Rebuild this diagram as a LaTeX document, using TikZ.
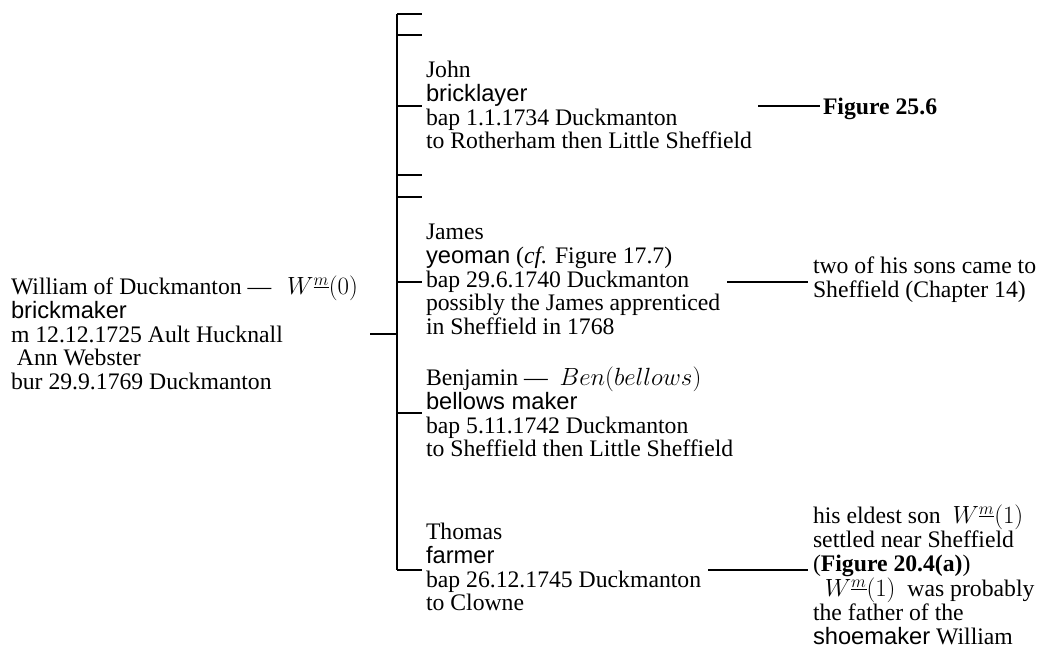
\documentclass[tikz,border=0pt]{standalone}
\usepackage[no-math]{fontspec}
\setmainfont{Liberation Serif}
\setsansfont{Liberation Sans}
\newcommand\occup[1]{{\sffamily #1}}
\newcommand\Wm[1]{$W^{\underline{m}}(#1)$}
\begin{document}
\begin{tikzpicture}[x=1pt,y=-1pt,line width=2pt,
  txt/.style={inner sep=0pt,anchor=base west,align=left,font=\fontsize{23.7}{23.8}\selectfont},
  link/.style={line width=2pt}]
\useasboundingbox (0,0) rectangle (1041,648);
% text blocks (anchor = baseline of the last line)
\node[txt] (father) at (10,389.7) {William of Duckmanton --- \ \,\Wm{0}\\\occup{brickmaker}\\m 12.12.1725 Ault Hucknall\\\ Ann Webster\\bur 29.9.1769 Duckmanton};
\node[txt] (john) at (425,148.9) {John\\\occup{bricklayer}\\bap 1.1.1734 Duckmanton\\to Rotherham then Little Sheffield};
\node[txt] (james) at (425,334.7) {James\\\occup{yeoman} (\emph{cf.} Figure 17.7)\\bap 29.6.1740 Duckmanton\\possibly the James apprenticed\\in Sheffield in 1768};
\node[txt] (benjamin) at (425,456.9) {Benjamin --- \ $Ben(bellows)$\\\occup{bellows maker}\\bap 5.11.1742 Duckmanton\\to Sheffield then Little Sheffield};
\node[txt] (thomas) at (425,610.9) {Thomas\\\occup{farmer}\\bap 26.12.1745 Duckmanton\\to Clowne};
\node[txt] (fig) at (822,114) {\textbf{Figure 25.6}};
\node[txt] (jamesnote) at (812,297.3) {two of his sons came to\\Sheffield (Chapter 14)};
\node[txt] (thomasnote) at (812,644) {his eldest son \ \Wm{1}\\settled near Sheffield\\(\textbf{Figure 20.4(a)})\\\ \ \Wm{1} \ was probably\\the father of the\\\occup{shoemaker} William};
% bus
\coordinate (bustop) at (397,14);
\coordinate (busbot) at (397,570);
\coordinate (fa) at (370,334);
\coordinate (fb) at (397,334);
\draw[link] (bustop) -- (busbot);
\draw[link] (fa) -- (fb);
\foreach \y/\n in {14/e1,35/e2,106/c1,175/e3,197/e4,282/c2,413/c3,570/c4}{
  \coordinate (b\n) at (397,\y);
  \coordinate (t\n) at (422,\y);
  \draw[link] (b\n) -- (t\n);
}
% right connectors
\coordinate (jr1) at (758,106);
\coordinate (jr2) at (820,106);
\draw[link] (jr1) -- (jr2);
\coordinate (ar1) at (727,282);
\coordinate (ar2) at (808,282);
\draw[link] (ar1) -- (ar2);
\coordinate (tr1) at (708,570);
\coordinate (tr2) at (808,570);
\draw[link] (tr1) -- (tr2);
\end{tikzpicture}
\end{document}
